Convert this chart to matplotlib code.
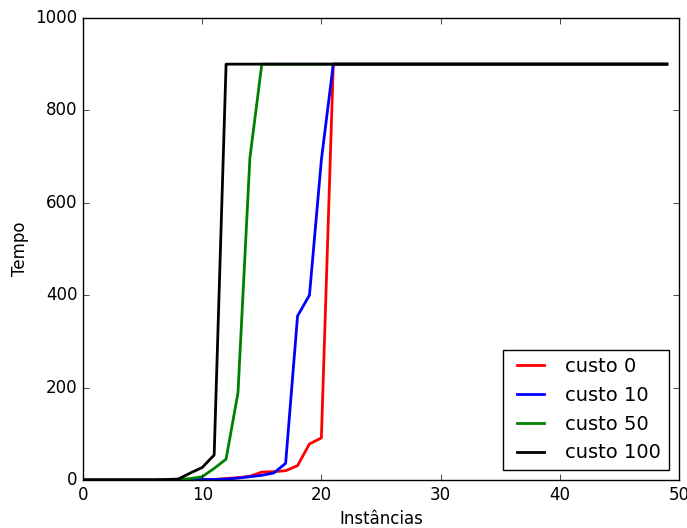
import numpy as np
import matplotlib
matplotlib.use('Agg')
import matplotlib.pyplot as plt

plt.style.use('classic')

instancias = list(range(0, 50))

# tempo por instancia
custo0 = [0, 0, 0, 0, 0, 0, 0, 0, 0, 0, 1, 1, 3, 5, 8, 17, 18, 20, 31, 78, 91] + [900] * 29
custo10 = [0, 0, 0, 0, 0, 0, 0, 0, 0, 0, 1, 1, 2, 4, 7, 10, 15, 36, 355, 400, 693] + [900] * 29
custo50 = [0, 0, 0, 0, 0, 0, 0, 0, 1, 3, 7, 25, 45, 189, 697] + [900] * 35
custo100 = [0, 0, 0, 0, 0, 0, 0, 1, 2, 15, 27, 54] + [900] * 38

fig = plt.figure(figsize=(6.87, 5.28), dpi=100, facecolor='white')
ax = fig.add_axes([0.121, 0.091, 0.867, 0.875])

ax.plot(instancias, custo0, color='r', linewidth=2, label='custo 0')
ax.plot(instancias, custo10, color='b', linewidth=2, label='custo 10')
ax.plot(instancias, custo50, color='g', linewidth=2, label='custo 50')
ax.plot(instancias, custo100, color='k', linewidth=2, label='custo 100')

ax.set_xlim(0, 50)
ax.set_ylim(0, 1000)
ax.set_xlabel('Instâncias')
ax.set_ylabel('Tempo')
ax.legend(loc='lower right', fontsize=14)

fig.savefig('out.png', dpi=100, facecolor='white')
